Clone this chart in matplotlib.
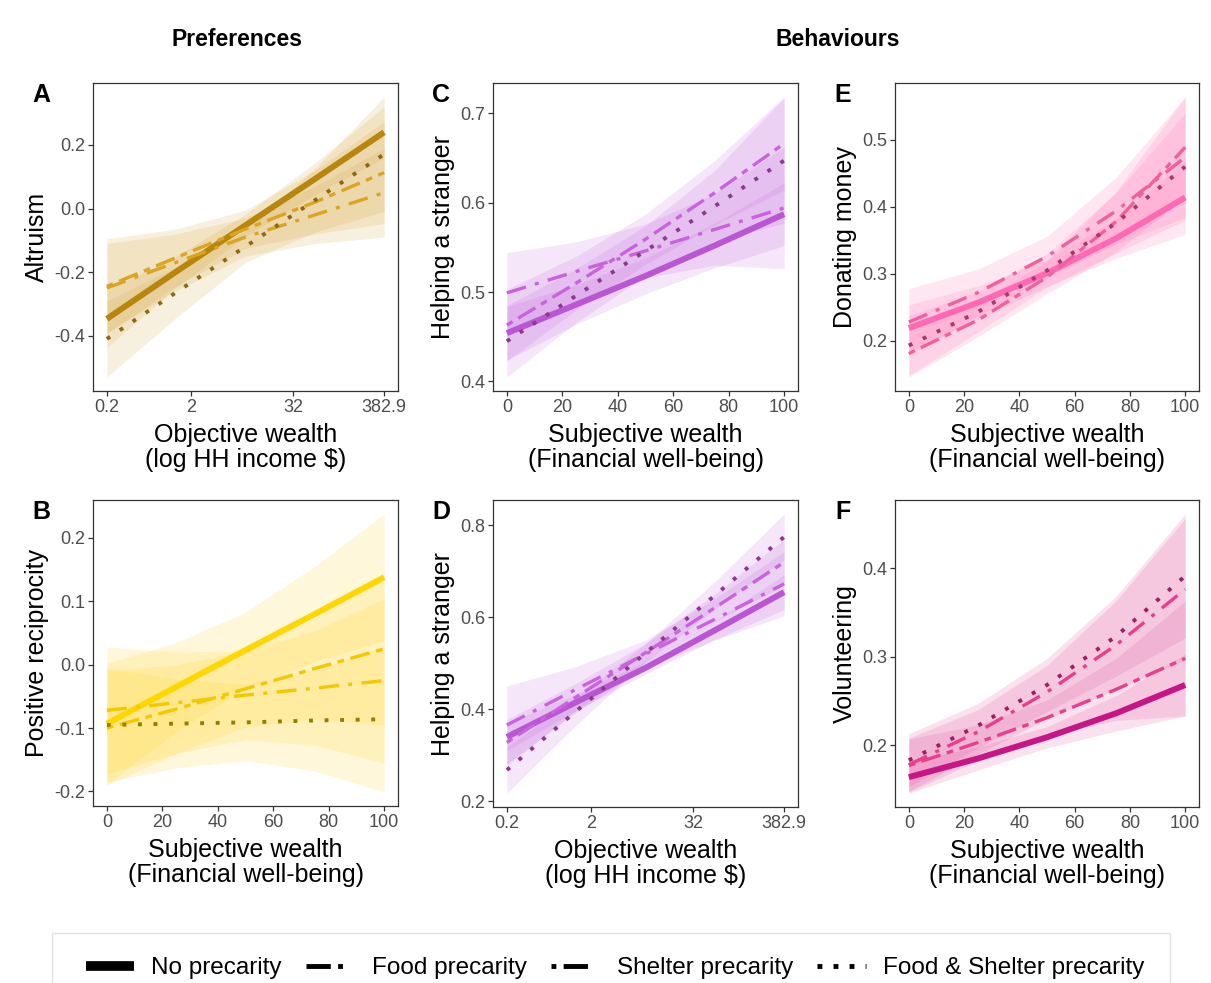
import numpy as np
import matplotlib.pyplot as plt
from matplotlib.lines import Line2D
from matplotlib.patches import Rectangle

plt.rcParams['font.family'] = ['Liberation Sans', 'DejaVu Sans']
plt.rcParams['axes.unicode_minus'] = False

W, H = 1211, 983

# x grids the model predictions were evaluated on
wellbeing = [0, 25, 50, 75, 100]
income = [0.2, 1.3, 8.7, 58, 382.9]

groups = ['No precarity', 'Food precarity', 'Shelter precarity',
          'Food & Shelter precarity']

# predicted values and CI half widths, rows follow `groups`
altruism_fit = [[-0.347, -0.200, -0.053, 0.093, 0.240],
                [-0.250, -0.170, -0.090, -0.020, 0.050],
                [-0.245, -0.155, -0.065, 0.020, 0.113],
                [-0.410, -0.265, -0.120, 0.026, 0.171]]
altruism_ci = [[0.09, 0.05, 0.035, 0.05, 0.08],
               [0.14, 0.09, 0.06, 0.09, 0.14],
               [0.15, 0.09, 0.06, 0.10, 0.16],
               [0.12, 0.08, 0.05, 0.10, 0.18]]

recip_fit = [[-0.093, -0.035, 0.023, 0.080, 0.138],
             [-0.072, -0.060, -0.048, -0.037, -0.025],
             [-0.100, -0.070, -0.038, -0.006, 0.025],
             [-0.095, -0.093, -0.091, -0.088, -0.086]]
recip_ci = [[0.095, 0.07, 0.06, 0.075, 0.10],
            [0.10, 0.08, 0.07, 0.09, 0.13],
            [0.09, 0.07, 0.06, 0.08, 0.12],
            [0.09, 0.07, 0.06, 0.08, 0.115]]

help_sw_fit = [[0.454, 0.486, 0.518, 0.552, 0.587],
               [0.499, 0.523, 0.546, 0.570, 0.594],
               [0.463, 0.510, 0.559, 0.611, 0.666],
               [0.445, 0.496, 0.546, 0.596, 0.647]]
help_sw_ci = [[0.03, 0.022, 0.02, 0.025, 0.035],
              [0.045, 0.033, 0.03, 0.04, 0.068],
              [0.04, 0.03, 0.028, 0.036, 0.052],
              [0.04, 0.03, 0.028, 0.04, 0.07]]

help_inc_fit = [[0.340, 0.415, 0.490, 0.572, 0.655],
                [0.366, 0.443, 0.520, 0.596, 0.673],
                [0.328, 0.426, 0.523, 0.621, 0.720],
                [0.268, 0.395, 0.522, 0.648, 0.775]]
help_inc_ci = [[0.03, 0.018, 0.014, 0.02, 0.038],
               [0.085, 0.05, 0.03, 0.045, 0.07],
               [0.05, 0.03, 0.02, 0.03, 0.05],
               [0.05, 0.03, 0.02, 0.03, 0.05]]

donate_fit = [[0.219, 0.257, 0.301, 0.353, 0.414],
              [0.228, 0.272, 0.326, 0.394, 0.474],
              [0.181, 0.231, 0.295, 0.378, 0.489],
              [0.193, 0.243, 0.305, 0.376, 0.460]]
donate_ci = [[0.035, 0.025, 0.02, 0.03, 0.055],
             [0.05, 0.035, 0.03, 0.05, 0.09],
             [0.035, 0.025, 0.025, 0.045, 0.075],
             [0.045, 0.03, 0.025, 0.045, 0.08]]

volunteer_fit = [[0.164, 0.185, 0.209, 0.236, 0.268],
                 [0.178, 0.215, 0.260, 0.313, 0.376],
                 [0.177, 0.203, 0.231, 0.263, 0.298],
                 [0.183, 0.222, 0.268, 0.323, 0.391]]
volunteer_ci = [[0.018, 0.013, 0.012, 0.02, 0.035],
                [0.03, 0.025, 0.03, 0.05, 0.08],
                [0.03, 0.02, 0.02, 0.035, 0.065],
                [0.03, 0.025, 0.03, 0.045, 0.07]]

# line colours per group, ribbon colour last
gold = ['#B8860B', '#DAA520', '#DAA520', '#8B6914', '#D4A437']
yellow = ['#FFD700', '#F2C800', '#F2C800', '#8F8000', '#FFD21A']
purple = ['#BA55D3', '#C862DD', '#C862DD', '#8B3A8B', '#C266DA']
pink = ['#FF69B4', '#F0609E', '#F0609E', '#A8376F', '#FF6FB0']
magenta = ['#C71585', '#E83E8C', '#E83E8C', '#9C2060', '#E0489A']

# line width and dash pattern per group
styles = [(4.3, None), (2.4, (6, 2.8, 1.2, 2.8)),
          (2.4, (2, 2, 6, 2)), (2.8, (1, 3))]

sub_label = 'Subjective wealth\n(Financial well-being)'
obj_label = 'Objective wealth\n(log HH income $)'

panels = [
    ('A', income, altruism_fit, altruism_ci, gold, 'Altruism', obj_label,
     (93, 83, 398, 391), [-0.4, -0.2, 0.0, 0.2]),
    ('B', wellbeing, recip_fit, recip_ci, yellow, 'Positive reciprocity',
     sub_label, (93, 500, 398, 806), [-0.2, -0.1, 0.0, 0.1, 0.2]),
    ('C', wellbeing, help_sw_fit, help_sw_ci, purple, 'Helping a stranger',
     sub_label, (493, 83, 798, 391), [0.4, 0.5, 0.6, 0.7]),
    ('D', income, help_inc_fit, help_inc_ci, purple, 'Helping a stranger',
     obj_label, (493, 500, 798, 807), [0.2, 0.4, 0.6, 0.8]),
    ('E', wellbeing, donate_fit, donate_ci, pink, 'Donating money',
     sub_label, (895, 83, 1199, 391), [0.2, 0.3, 0.4, 0.5]),
    ('F', wellbeing, volunteer_fit, volunteer_ci, magenta, 'Volunteering',
     sub_label, (895, 500, 1199, 807), [0.2, 0.3, 0.4]),
]

fig = plt.figure(figsize=(W / 100, H / 100), dpi=100)

for letter, x, fit, ci, cols, ylab, xlab, (l, t, r, b), yt in panels:
    ax = fig.add_axes([l / W, 1 - b / H, (r - l) / W, (b - t) / H])
    x = np.array(x)
    fit = np.array(fit)
    ci = np.array(ci)
    log_x = xlab == obj_label

    for k in range(4):
        ax.fill_between(x, fit[k] - ci[k], fit[k] + ci[k], color=cols[4],
                        alpha=0.16, lw=0)
    for k in range(4):
        lw, dash = styles[k]
        line, = ax.plot(x, fit[k], color=cols[k], lw=lw,
                        solid_capstyle='butt', dash_capstyle='butt')
        if dash:
            line.set_dashes(dash)

    lo, hi = (fit - ci).min(), (fit + ci).max()
    pad = (hi - lo) * 0.05
    ax.set_ylim(lo - pad, hi + pad)
    if log_x:
        ax.set_xscale('log')
        a, c = np.log10(x[0]), np.log10(x[-1])
        e = (c - a) * 0.05
        ax.set_xlim(10 ** (a - e), 10 ** (c + e))
        ax.set_xticks([0.2, 2, 32, 382.9])
        ax.set_xticklabels(['0.2', '2', '32', '382.9'])
        ax.minorticks_off()
    else:
        ax.set_xlim(-5, 105)
        ax.set_xticks([0, 20, 40, 60, 80, 100])
    ax.set_yticks(yt)
    ax.set_yticklabels(['%.1f' % v for v in yt])

    for s in ax.spines.values():
        s.set_color('#333333')
        s.set_linewidth(0.9)
    ax.tick_params(colors='#333333', labelcolor='#4D4D4D', labelsize=13,
                   length=3.5, width=0.9, pad=2)
    ax.set_ylabel(ylab, fontsize=18, labelpad=4)
    ax.set_xlabel(xlab, fontsize=18, linespacing=1.05, labelpad=5)

    fig.text((l - 52) / W, 1 - (t + 12) / H, letter, fontsize=18,
             fontweight='bold', ha='center', va='center')

fig.text(237 / W, 1 - 40 / H, 'Preferences', fontsize=16.5,
         fontweight='bold', ha='center', va='center')
fig.text(838 / W, 1 - 40 / H, 'Behaviours', fontsize=16.5,
         fontweight='bold', ha='center', va='center')

# legend frame runs past the bottom edge
fig.patches.append(Rectangle((52 / W, -0.05), 1118 / W, 0.05 + 50 / H,
                             transform=fig.transFigure, fill=False,
                             edgecolor='#E3E3E3', lw=1))

# one pattern cycle per key
key_styles = [(7, None), (3.5, (5, 1.5, 1, 3)), (3.5, (1, 1.5, 5, 3)),
              (3.5, (1, 2.3))]
handles = []
for lw, dash in key_styles:
    h = Line2D([], [], color='black', lw=lw, solid_capstyle='butt',
               dash_capstyle='butt')
    if dash:
        h.set_dashes(dash)
    handles.append(h)

fig.legend(handles, groups, loc='center', bbox_to_anchor=(615 / W, 1 - 968 / H),
           ncol=4, frameon=False, handlelength=2.0, handletextpad=0.7,
           columnspacing=1.0, prop=dict(size=17.5))

fig.savefig('out.png', dpi=100)
